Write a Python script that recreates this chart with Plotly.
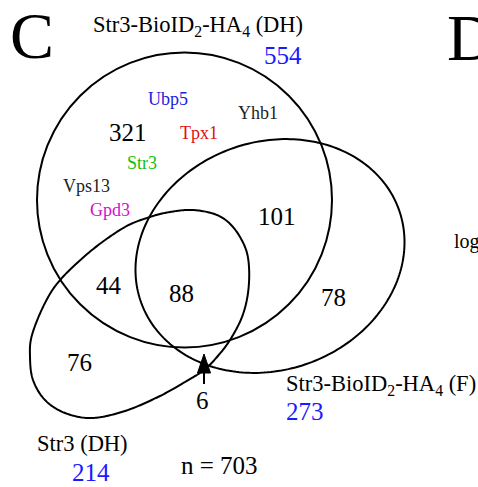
import numpy as np
import plotly.graph_objects as go

# ---------------- data ----------------
set_names = ["Str3-BioID<sub>2</sub>-HA<sub>4</sub> (DH)",
             "Str3-BioID<sub>2</sub>-HA<sub>4</sub> (F)",
             "Str3 (DH)"]
set_totals = [554, 273, 214]
region_labels = ["DH only", "DH&F", "DH&Str3", "all", "F only", "Str3 only", "F&Str3"]
region_counts = [321, 101, 44, 88, 78, 76, 6]
total_n = 703
genes = ["Ubp5", "Yhb1", "Tpx1", "Str3", "Vps13", "Gpd3"]
gene_colors = ["#2020e0", "#222222", "#e01010", "#10c010", "#222222", "#d010d0"]

# ---------------- layout geometry (pixel space) ----------------
W, H = 478, 487
FONT = "Liberation Serif"

circle_dh = dict(cx=184.5, cy=200, r=147.5)
ell_f = dict(cx=270, cy=256, a=137, b=114, rot=20)  # visual CCW degrees

# control points for the Str3 (DH) egg-like contour
egg_pts = np.array([
    (30, 357), (32, 335), (45, 303), (61, 279), (92, 250), (125, 227), (150, 217),
    (170, 212), (193, 210), (217, 215), (233, 227), (245, 247), (249, 267),
    (248, 293), (242, 317), (230, 340), (217, 357), (204, 370), (185, 382),
    (158, 397), (125, 411), (92, 418), (65, 413), (45, 400), (33, 380)
], dtype=float)

region_pos = {"DH only": (128, 132), "DH&F": (277, 216), "DH&Str3": (109, 285),
              "all": (181, 293), "F only": (333, 297), "Str3 only": (79, 362),
              "F&Str3": (202, 400)}
gene_pos = [(168, 99), (258, 113), (199, 133), (142, 163), (86, 186), (110, 210)]


def catmull_rom_closed(pts, n=20):
    out = []
    N = len(pts)
    for i in range(N):
        p0, p1, p2, p3 = pts[(i - 1) % N], pts[i], pts[(i + 1) % N], pts[(i + 2) % N]
        for t in np.linspace(0, 1, n, endpoint=False):
            t2, t3 = t * t, t * t * t
            out.append(0.5 * ((2 * p1) + (-p0 + p2) * t +
                              (2 * p0 - 5 * p1 + 4 * p2 - p3) * t2 +
                              (-p0 + 3 * p1 - 3 * p2 + p3) * t3))
    return np.array(out)


def path_from(pts):
    s = "M %.2f %.2f " % tuple(pts[0])
    s += " ".join("L %.2f %.2f" % tuple(p) for p in pts[1:])
    return s + " Z"


t = np.linspace(0, 2 * np.pi, 240, endpoint=False)
th = np.deg2rad(ell_f["rot"])
ex = ell_f["a"] * np.cos(t)
ey = ell_f["b"] * np.sin(t)
ell_pts = np.column_stack([ell_f["cx"] + ex * np.cos(th) + ey * np.sin(th),
                           ell_f["cy"] - ex * np.sin(th) + ey * np.cos(th)])

egg_curve = catmull_rom_closed(egg_pts)

line = dict(color="black", width=2)
shapes = [
    dict(type="circle", xref="x", yref="y",
         x0=circle_dh["cx"] - circle_dh["r"], x1=circle_dh["cx"] + circle_dh["r"],
         y0=circle_dh["cy"] - circle_dh["r"], y1=circle_dh["cy"] + circle_dh["r"],
         line=line),
    dict(type="path", xref="x", yref="y", path=path_from(ell_pts), line=line),
    dict(type="path", xref="x", yref="y", path=path_from(egg_curve), line=line),
    # pointer to the small F&Str3 region
    dict(type="path", xref="x", yref="y", path="M 197.5 373 L 204 354 L 210.5 373 Z",
         fillcolor="black", line=dict(color="black", width=1)),
    dict(type="line", xref="x", yref="y", x0=204, x1=204, y0=372, y1=384,
         line=dict(color="black", width=2)),
]

ann = []


def txt(x, y, s, size, color="black", xanchor="center"):
    ann.append(dict(x=x, y=y, xref="x", yref="y", text=s, showarrow=False,
                    xanchor=xanchor, yanchor="middle",
                    font=dict(family=FONT, size=size, color=color)))


# panel letters
txt(32, 35, "C", 66)
txt(445, 37, "D", 66, xanchor="left")
txt(452, 242, "log<sub>2</sub>", 20, xanchor="left")

# set names and totals
txt(91, 26, set_names[0], 22.5, xanchor="left")
txt(304, 55, str(set_totals[0]), 25, "#1a1aff", xanchor="right")
txt(284, 385, set_names[1], 22.5, xanchor="left")
txt(284, 411, str(set_totals[1]), 25, "#1a1aff", xanchor="left")
txt(35, 443, set_names[2], 22.5, xanchor="left")
txt(91, 472, str(set_totals[2]), 25, "#1a1aff")

for lab, c in zip(region_labels, region_counts):
    x, y = region_pos[lab]
    txt(x, y, str(c), 25)

for g, col, (x, y) in zip(genes, gene_colors, gene_pos):
    txt(x, y, g, 18, col)

txt(219, 465, "n = %d" % total_n, 25)

fig = go.Figure()
fig.add_trace(go.Scatter(x=[0, W], y=[0, H], mode="markers",
                         marker=dict(opacity=0), hoverinfo="skip", showlegend=False))
fig.update_layout(
    width=W, height=H, margin=dict(l=0, r=0, t=0, b=0),
    paper_bgcolor="white", plot_bgcolor="white",
    xaxis=dict(range=[0, W], visible=False, fixedrange=True),
    yaxis=dict(range=[H, 0], visible=False, fixedrange=True),
    shapes=shapes, annotations=ann, showlegend=False,
)
fig.write_html("out.html", config=dict(displayModeBar=False),
               post_script="document.body.style.margin='0';document.body.style.overflow='hidden';")
